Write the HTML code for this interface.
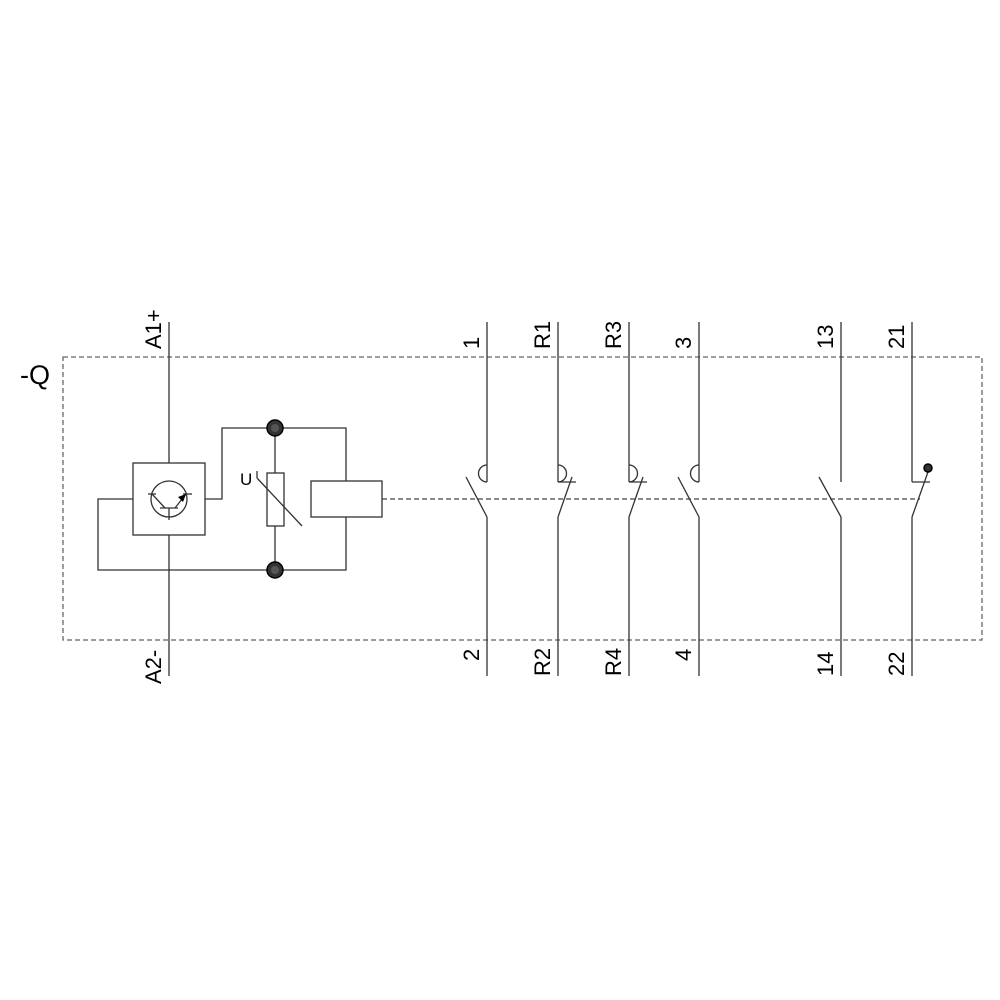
<!DOCTYPE html>
<html><head><meta charset="utf-8"><style>html,body{margin:0;padding:0;background:#fff}svg{display:block}</style></head>
<body>
<svg width="1000" height="1000" viewBox="0 0 1000 1000" xmlns="http://www.w3.org/2000/svg" font-family="Liberation Sans, sans-serif">
<g fill="none" stroke="#333" stroke-width="1.3">
<rect x="63" y="357" width="919" height="283" stroke="#666" stroke-dasharray="5,3"/>
<line x1="382" y1="499" x2="920" y2="499" stroke="#444" stroke-dasharray="5,3"/>
<line x1="169" y1="322" x2="169" y2="463"/>
<line x1="169" y1="535" x2="169" y2="676"/>
<rect x="133" y="463" width="72" height="72"/>
<circle cx="169" cy="499" r="18"/>
<line x1="148" y1="494" x2="156" y2="494"/>
<line x1="183" y1="494" x2="192" y2="494"/>
<line x1="152" y1="494" x2="165" y2="508"/>
<line x1="160" y1="508" x2="178" y2="508"/>
<line x1="175" y1="508" x2="186" y2="494"/>
<line x1="169" y1="508" x2="169" y2="520"/>
<polyline points="133,499 98,499 98,570 346,570 346,517"/>
<polyline points="205,499 222,499 222,428 346,428 346,481"/>
<line x1="275" y1="428" x2="275" y2="473"/>
<line x1="275" y1="526" x2="275" y2="570"/>
<rect x="267" y="473" width="17" height="53"/>
<line x1="257" y1="478" x2="302" y2="526"/>
<line x1="257" y1="471" x2="257" y2="478"/>
<rect x="311" y="481" width="71" height="36"/>
<line x1="487" y1="322" x2="487" y2="482"/><path d="M487 465 A8 8 0 0 0 487 482"/>
<line x1="466" y1="477" x2="487" y2="517"/><line x1="487" y1="517" x2="487" y2="676"/>
<line x1="558" y1="322" x2="558" y2="482"/><path d="M558 465 A8 8 0 0 1 558 482"/>
<line x1="558" y1="482" x2="576" y2="482"/>
<line x1="572" y1="477" x2="558" y2="517"/><line x1="558" y1="517" x2="558" y2="676"/>
<line x1="629" y1="322" x2="629" y2="482"/><path d="M629 465 A8 8 0 0 1 629 482"/>
<line x1="629" y1="482" x2="647" y2="482"/>
<line x1="643" y1="477" x2="629" y2="517"/><line x1="629" y1="517" x2="629" y2="676"/>
<line x1="699" y1="322" x2="699" y2="482"/><path d="M699 465 A8 8 0 0 0 699 482"/>
<line x1="678" y1="477" x2="699" y2="517"/><line x1="699" y1="517" x2="699" y2="676"/>
<line x1="841" y1="322" x2="841" y2="482"/>
<line x1="819" y1="477" x2="841" y2="517"/><line x1="841" y1="517" x2="841" y2="676"/>
<line x1="912" y1="322" x2="912" y2="482"/>
<line x1="912" y1="482" x2="930" y2="482"/>
<line x1="928" y1="472" x2="912" y2="517"/><line x1="912" y1="517" x2="912" y2="676"/>
</g>
<polygon points="186,494 178,497 183,502" fill="#000"/>
<g fill="#333" stroke="#000" stroke-width="1.5">
<circle cx="275" cy="428" r="8"/><circle cx="275" cy="570" r="8"/>
<circle cx="928" cy="468" r="4"/>
</g>
<g fill="#555"><circle cx="275" cy="428" r="4"/><circle cx="275" cy="570" r="4"/></g>
<g fill="#000" font-size="22">
<text x="20" y="384" font-size="27">-Q</text>
<text x="240" y="485" font-size="17">U</text>
<g text-anchor="start">
<text transform="translate(161,349) rotate(-90)">A1+</text>
<text transform="translate(479,349) rotate(-90)">1</text>
<text transform="translate(550,349) rotate(-90)">R1</text>
<text transform="translate(621,349) rotate(-90)">R3</text>
<text transform="translate(691,349) rotate(-90)">3</text>
<text transform="translate(833,349) rotate(-90)">13</text>
<text transform="translate(904,349) rotate(-90)">21</text>
<text transform="translate(161,684) rotate(-90)">A2-</text>
<text transform="translate(479,661) rotate(-90)">2</text>
<text transform="translate(550,676) rotate(-90)">R2</text>
<text transform="translate(621,676) rotate(-90)">R4</text>
<text transform="translate(691,661) rotate(-90)">4</text>
<text transform="translate(833,676) rotate(-90)">14</text>
<text transform="translate(904,676) rotate(-90)">22</text>
</g>
</g>
</svg>
</body></html>
